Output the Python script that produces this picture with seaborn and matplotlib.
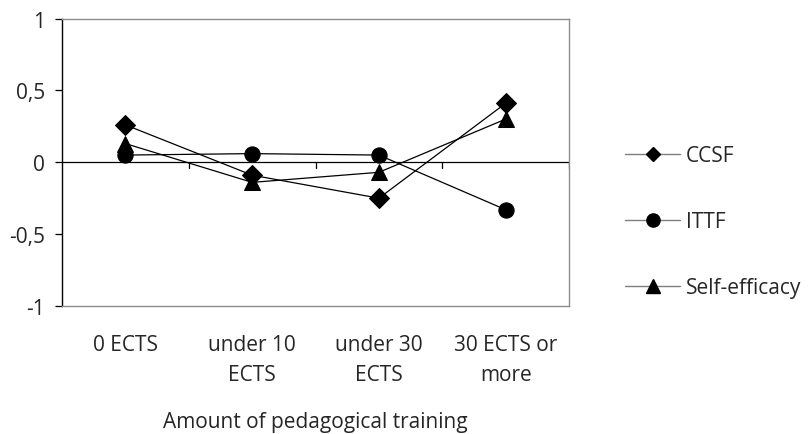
import numpy as np
import pandas as pd
import matplotlib
matplotlib.use("Agg")
import matplotlib.pyplot as plt
from matplotlib.lines import Line2D
from matplotlib.ticker import FuncFormatter
import seaborn as sns

# ----------------------------
# DANE
# ----------------------------
categories = ["0 ECTS", "under 10\nECTS", "under 30\nECTS", "30 ECTS or\nmore"]
ccsf = [0.26, -0.09, -0.25, 0.41]
ittf = [0.05, 0.06, 0.05, -0.33]
self_efficacy = [0.13, -0.14, -0.07, 0.30]

series_names = ["CCSF", "ITTF", "Self-efficacy"]
series_markers = {"CCSF": "D", "ITTF": "o", "Self-efficacy": "^"}
series_sizes = {"CCSF": 10, "ITTF": 11, "Self-efficacy": 12}
legend_sizes = {"CCSF": 7.5, "ITTF": 9.5, "Self-efficacy": 9.5}

df = pd.DataFrame({
    "category": categories * 3,
    "value": ccsf + ittf + self_efficacy,
    "series": np.repeat(series_names, len(categories)),
})

# ----------------------------
# WYKRES
# ----------------------------
sns.set_style("white")
plt.rcParams["font.family"] = ["Open Sans", "DejaVu Sans"]
plt.rcParams["font.size"] = 15

fig = plt.figure(figsize=(8.11, 4.35), dpi=100)
ax = fig.add_axes([62 / 811, 1 - 307 / 435, (569 - 62) / 811, (307 - 19.5) / 435])

for name in series_names:
    sub = df[df["series"] == name]
    sns.lineplot(data=sub, x="category", y="value", ax=ax, color="black",
                 linewidth=0.9, marker=series_markers[name],
                 markersize=series_sizes[name], markeredgecolor="black",
                 markerfacecolor="black", sort=False, legend=False)

ax.set_xlim(-0.5, 3.5)
ax.set_ylim(-1, 1)
ax.set_yticks([-1, -0.5, 0, 0.5, 1])
ax.yaxis.set_major_formatter(FuncFormatter(lambda v, p: f"{v:g}".replace(".", ",")))

# linia zera z kreskami między kategoriami
ax.axhline(0, color="black", linewidth=0.9, zorder=1)
for b in [0.5, 1.5, 2.5, 3.5]:
    ax.plot([b, b], [0, -0.04], color="black", linewidth=0.9, zorder=1)

for side in ["top", "right", "bottom"]:
    ax.spines[side].set_color("#8c8c8c")
    ax.spines[side].set_linewidth(1.0)
ax.spines["left"].set_color("black")
ax.spines["left"].set_linewidth(1.0)

ax.tick_params(axis="y", left=True, length=5, width=0.9, color="black",
               labelsize=15, pad=7)
ax.tick_params(axis="x", bottom=False, length=0, labelsize=15, pad=20)
for lbl in ax.get_xticklabels():
    lbl.set_linespacing(1.55)

ax.set_xlabel("Amount of pedagogical training", fontsize=15, labelpad=19)
ax.set_ylabel("")

handles = [Line2D([], [], color="#7f7f7f", linewidth=1.0,
                  marker=series_markers[n], markersize=legend_sizes[n],
                  markerfacecolor="black", markeredgecolor="black")
           for n in series_names]
fig.legend(handles, series_names, loc="center left",
           bbox_to_anchor=(615 / 811, 1 - 222.5 / 435), frameon=False,
           fontsize=15, handlelength=2.6, handletextpad=0.3,
           labelspacing=2.15, borderpad=0)

fig.savefig("out.png", dpi=100)
